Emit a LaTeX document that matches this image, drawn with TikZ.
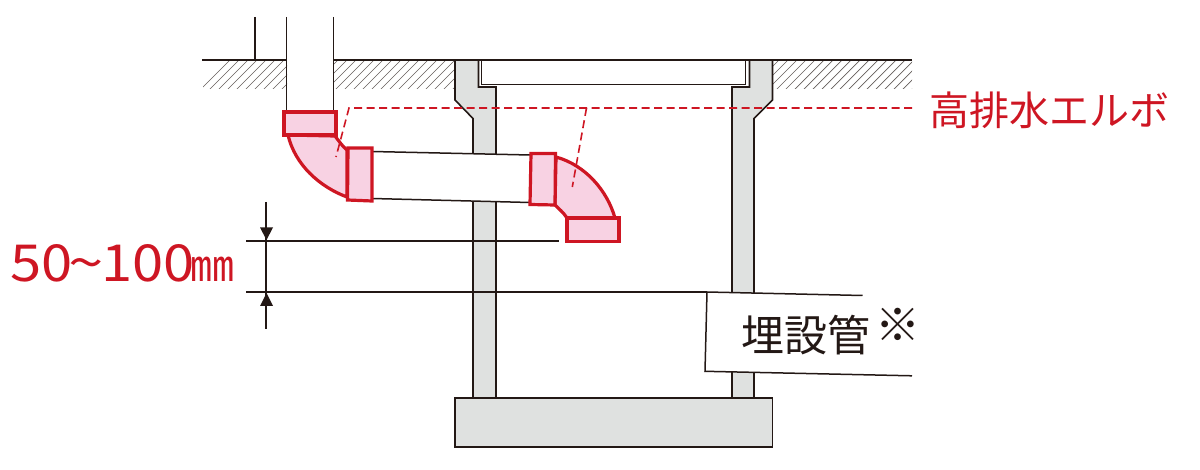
\documentclass[tikz,border=0pt]{standalone}
\usepackage{fontspec}
\usepackage{graphicx}
\setmainfont{Noto Sans CJK JP}
\definecolor{inkk}{HTML}{231815}
\definecolor{redd}{HTML}{CE1623}
\definecolor{pinkk}{HTML}{F8D2E3}
\definecolor{wallg}{HTML}{DFE1E0}
\tikzset{
  line/.style={draw=inkk,line width=1.5pt},
  walls/.style={fill=wallg,draw=inkk,line width=1.6pt,line join=miter},
  fitting/.style={fill=pinkk,draw=redd,line width=3.2pt,line join=miter},
  leader/.style={draw=redd,line width=1.6pt,dash pattern=on 8pt off 4.5pt},
  hatching/.style={draw=inkk!70,line width=0.7pt},
  head/.style={fill=inkk,draw=none},
  dimtext/.style={anchor=base west,inner sep=0pt,text=redd,font=\fontsize{51}{51}\selectfont}
}
\begin{document}
\begin{tikzpicture}[x=1pt,y=-1pt]
\useasboundingbox (0,0) rectangle (1200,470);
% ground hatching
\begin{scope}
  \clip (203,60) rectangle (287,89) (334,60) rectangle (455,89) (773,60) rectangle (912,89);
  \foreach \k in {0,...,84} {\draw[hatching] (195+9*\k,95) -- (195+9*\k+40,55);}
\end{scope}
% walls of the pit
\draw[walls] (455,60) -- (455,100) -- (473,118.5) -- (473,398) -- (496,398) -- (496,87) -- (478.5,87) -- (478.5,60) -- cycle;
\draw[walls] (772.5,60) -- (772.5,100) -- (754,118.5) -- (754,398) -- (732,398) -- (732,87) -- (749.5,87) -- (749.5,60) -- cycle;
\draw[line] (481.5,60) -- (481.5,84.5) -- (745.5,84.5) -- (745.5,60);
\draw[walls] (455,398) rectangle (772.5,447);
% ground line and upper pipe
\draw[line] (202,60) -- (287,60) (334,60) -- (912,60);
\draw[line] (255,17) -- (255,60);
\draw[line] (286.5,17) -- (286.5,112) (333.5,17) -- (333.5,112);
% horizontal pipe
\fill[white] (372,151.5) -- (530,155) -- (530,202.5) -- (372,198.5) -- cycle;
\draw[line] (372,151.5) -- (530,155) (372,198.5) -- (530,202.5);
% level lines
\draw[line] (246,241) -- (559,241);
\draw[line] (246,292) -- (707,292);
% buried pipe
\fill[white] (707,292) -- (862.5,295.5) -- (912,295.5) -- (912,376) -- (705,371.3) -- cycle;
\draw[line] (862.5,295.5) -- (707,292) -- (705,371.3) -- (912,375.8);
% dimension
\draw[line] (266,202) -- (266,329);
\fill[head] (260,227.5) -- (273,227.5) -- (266.5,240) -- cycle;
\fill[head] (260,306) -- (273,306) -- (266.5,293) -- cycle;
% left elbow
\draw[fitting] (288,135) .. controls (295,165) and (320,187) .. (347,197) -- (347,150) .. controls (342,146) and (339,141) .. (335,136) -- cycle;
\draw[fitting] (284,112) rectangle (336,135);
\draw[fitting] (348,148) -- (372,148) -- (372,201) -- (347.5,200) -- cycle;
% right elbow
\draw[fitting] (556,157) .. controls (585,165) and (607,190) .. (615,218) -- (567,218) .. controls (563,212) and (559,209) .. (555,205) -- cycle;
\draw[fitting] (531,153.5) -- (555.5,153.5) -- (555,205) -- (530,204.5) -- cycle;
\draw[fitting] (567,218) rectangle (619,241.5);
% leaders
\coordinate (ld) at (912,108);
\coordinate (la) at (349,108);
\coordinate (lb) at (586.5,108);
\draw[leader] (ld) -- (la) -- (336,157);
\draw[leader] (lb) -- (572.3,187);
% labels
\node[anchor=base west,inner sep=0pt,text=redd,font=\fontsize{40}{40}\selectfont] (elbow) at (929,126) {高排水エルボ};
\node[dimtext] (dimA) at (10,282) {\scalebox{1.1}[1]{50}};
\node[dimtext] (dimB) at (68,282) {\scalebox{1.25}[1]{\char`\~}};
\node[dimtext] (dimC) at (101,282) {\scalebox{1.1}[1]{100}};
\node[anchor=base west,inner sep=0pt,text=redd,font=\fontsize{44}{44}\selectfont] (unit) at (190,282) {㎜};
\node[anchor=base west,inner sep=0pt,text=inkk,font=\fontsize{43}{43}\selectfont] (buried) at (741,352) {埋設管};
\node[anchor=base west,inner sep=0pt,text=inkk,font=\fontsize{45}{45}\selectfont] (note) at (875,342) {※};
\end{tikzpicture}
\end{document}
